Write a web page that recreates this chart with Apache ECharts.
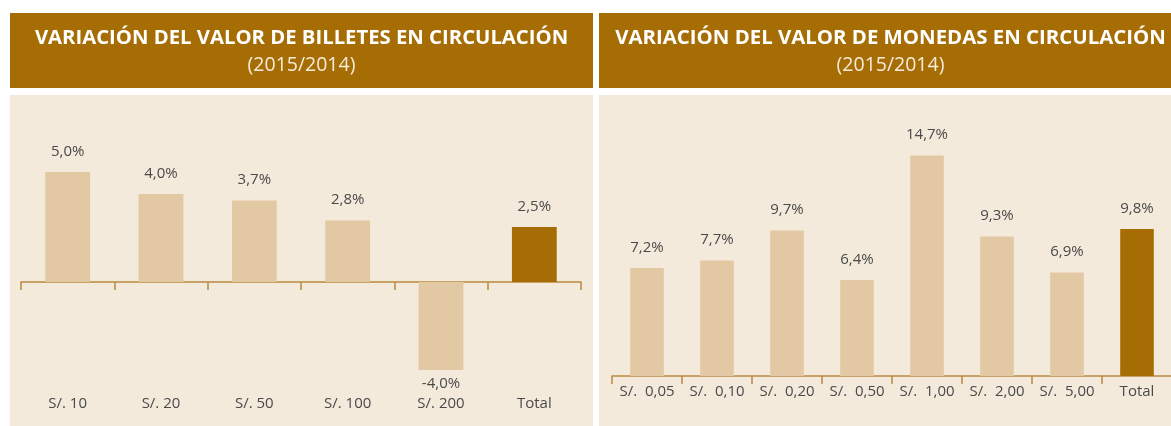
<!DOCTYPE html>
<html>
<head>
<meta charset="utf-8">
<script src="https://cdn.jsdelivr.net/npm/echarts@6/dist/echarts.min.js"></script>
<style>
html,body{margin:0;padding:0;background:#fff;}
#c{width:1171px;height:426px;}
</style>
</head>
<body>
<div id="c"></div>
<script>
// ---- data ----
var billetesCategories = ['S/. 10', 'S/. 20', 'S/. 50', 'S/. 100', 'S/. 200', 'Total'];
var billetesValues = [5.0, 4.0, 3.7, 2.8, -4.0, 2.5];
var monedasCategories = ['S/.  0,05', 'S/.  0,10', 'S/.  0,20', 'S/.  0,50', 'S/.  1,00', 'S/.  2,00', 'S/.  5,00', 'Total'];
var monedasValues = [7.2, 7.7, 9.7, 6.4, 14.7, 9.3, 6.9, 9.8];
var titleBilletes = 'VARIACIÓN DEL VALOR DE BILLETES EN CIRCULACIÓN';
var titleMonedas = 'VARIACIÓN DEL VALOR DE MONEDAS EN CIRCULACIÓN';
var subtitleText = '(2015/2014)';

var BROWN = '#A66D04';
var LIGHT = '#E3C8A4';
var PANEL = '#F4EADC';
var AXIS = '#B98B3E';
var TEXT = '#4A4A4A';
var FONT = '"Open Sans", "Noto Sans", sans-serif';

function fmt(v) { return v.toFixed(1).replace('.', ',') + '%'; }
function items(vals) {
  return vals.map(function (v, i) {
    return {
      value: v,
      itemStyle: { color: i === vals.length - 1 ? BROWN : LIGHT },
      label: { position: v < 0 ? 'bottom' : 'top', distance: v < 0 ? 6 : 13 }
    };
  });
}

var chart = echarts.init(document.getElementById('c'), null, { renderer: 'canvas' });
chart.setOption({
  animation: false,
  backgroundColor: '#ffffff',
  graphic: [
    { type: 'rect', z: -10, shape: { x: 10, y: 13, width: 583, height: 75 }, style: { fill: BROWN } },
    { type: 'rect', z: -10, shape: { x: 599, y: 13, width: 583, height: 75 }, style: { fill: BROWN } },
    { type: 'rect', z: -10, shape: { x: 10, y: 95, width: 583, height: 340 }, style: { fill: PANEL } },
    { type: 'rect', z: -10, shape: { x: 599, y: 95, width: 583, height: 340 }, style: { fill: PANEL } }
  ],
  title: [
    {
      text: titleBilletes, subtext: subtitleText, left: 301.5, top: 28, textAlign: 'center', itemGap: 7, padding: 0,
      textStyle: { color: '#ffffff', fontFamily: FONT, fontWeight: 'bold', fontSize: 20.3 },
      subtextStyle: { color: '#F6EBDA', fontFamily: FONT, fontWeight: 'normal', fontSize: 19.5 }
    },
    {
      text: titleMonedas, subtext: subtitleText, left: 890.5, top: 28, textAlign: 'center', itemGap: 7, padding: 0,
      textStyle: { color: '#ffffff', fontFamily: FONT, fontWeight: 'bold', fontSize: 20.4 },
      subtextStyle: { color: '#F6EBDA', fontFamily: FONT, fontWeight: 'normal', fontSize: 19.5 }
    }
  ],
  grid: [
    { left: 21, top: 150, width: 560, height: 231, outerBoundsMode: 'none', containLabel: false },
    { left: 612, top: 136, width: 560, height: 240, outerBoundsMode: 'none', containLabel: false }
  ],
  xAxis: [
    {
      type: 'category', gridIndex: 0, data: billetesCategories,
      axisLine: { onZero: true, lineStyle: { color: AXIS, width: 1.5 } },
      axisTick: { show: true, length: 8, interval: 0, lineStyle: { color: AXIS, width: 1.5 } },
      axisLabel: { margin: 15, color: TEXT, fontFamily: FONT, fontSize: 15, interval: 0 }
    },
    {
      type: 'category', gridIndex: 1, data: monedasCategories,
      axisLine: { onZero: true, lineStyle: { color: AXIS, width: 1.5 } },
      axisTick: { show: true, length: 8, interval: 0, lineStyle: { color: AXIS, width: 1.5 } },
      axisLabel: { margin: 8, color: TEXT, fontFamily: FONT, fontSize: 15, interval: 0 }
    }
  ],
  yAxis: [
    { type: 'value', gridIndex: 0, min: -4.5, max: 6, show: false, splitLine: { show: false } },
    { type: 'value', gridIndex: 1, min: 0, max: 16, show: false, splitLine: { show: false } }
  ],
  series: [
    {
      type: 'bar', xAxisIndex: 0, yAxisIndex: 0, barWidth: '48%', data: items(billetesValues),
      label: { show: true, color: TEXT, fontFamily: FONT, fontSize: 15, formatter: function (p) { return fmt(p.value); } }
    },
    {
      type: 'bar', xAxisIndex: 1, yAxisIndex: 1, barWidth: '48%', data: items(monedasValues),
      label: { show: true, color: TEXT, fontFamily: FONT, fontSize: 15, formatter: function (p) { return fmt(p.value); } }
    }
  ]
});
</script>
</body>
</html>
